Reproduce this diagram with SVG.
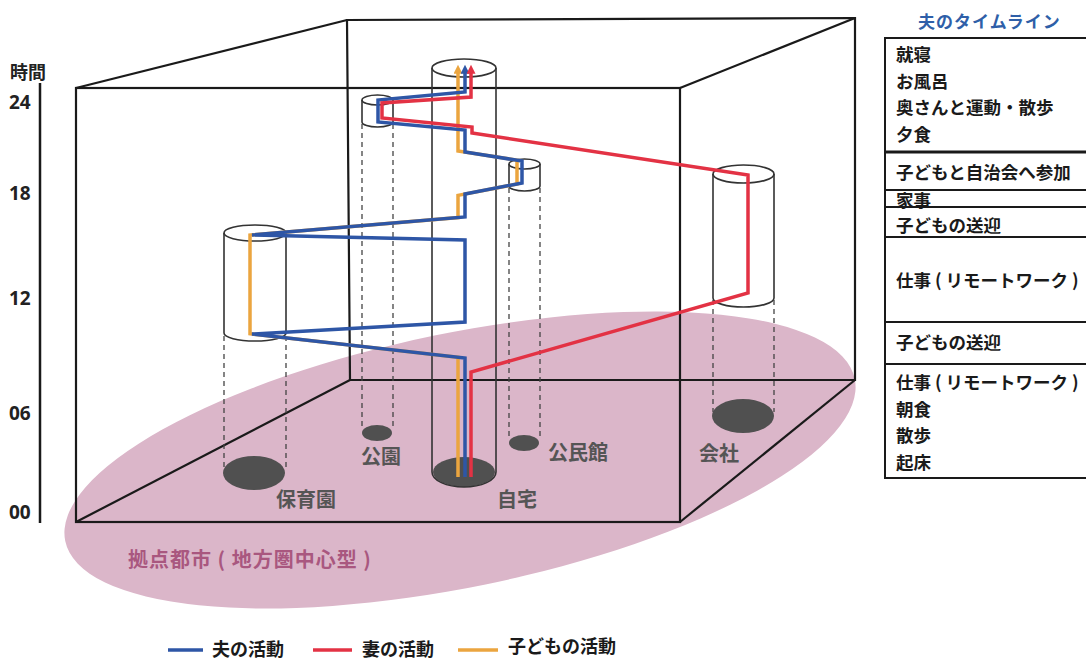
<svg xmlns="http://www.w3.org/2000/svg" width="1086" height="659" viewBox="0 0 1086 659">
<style>
.cube{fill:none;stroke:#1a1a1a;stroke-width:2.2}
.cyl{fill:none;stroke:#333;stroke-width:1.6}
.dash{fill:none;stroke:#444;stroke-width:1.3;stroke-dasharray:5 4}
.floor{fill:#505050}
.act{fill:none;stroke-width:3.5;stroke-linejoin:miter}
.blue{stroke:#2e56a6}
.red{stroke:#e33244}
.orange{stroke:#eba53f}
.jp{font-family:"Noto Sans CJK JP","Noto Sans",sans-serif;font-weight:bold}
.place{fill:#555;font-size:20px}
.tl{fill:#1a1a1a;font-size:17.5px}
.num{font-family:"Open Sans","Noto Sans",sans-serif;font-weight:bold;font-size:19px;fill:#222}
.leg{font-size:18px;fill:#1a1a1a}
</style>
<defs>
<marker id="ab" viewBox="0 0 10 10" refX="2" refY="5" markerWidth="11" markerHeight="9" markerUnits="userSpaceOnUse" orient="auto"><path d="M0,0 L10,5 L0,10 z" fill="#2e56a6"/></marker>
<marker id="ar" viewBox="0 0 10 10" refX="2" refY="5" markerWidth="11" markerHeight="9" markerUnits="userSpaceOnUse" orient="auto"><path d="M0,0 L10,5 L0,10 z" fill="#e33244"/></marker>
<marker id="ao" viewBox="0 0 10 10" refX="2" refY="5" markerWidth="11" markerHeight="9" markerUnits="userSpaceOnUse" orient="auto"><path d="M0,0 L10,5 L0,10 z" fill="#eba53f"/></marker>
</defs>
<rect width="1086" height="659" fill="#fff"/>

<g id="region">
<ellipse cx="460" cy="460" rx="403" ry="127" transform="rotate(-11.6 460 460)" fill="#dbb6c9"/>
<text class="jp" x="128" y="567" font-size="20" letter-spacing="1" fill="#a9577f">拠点都市 ( 地方圏中心型 )</text>
</g>

<g id="time-axis">
<line x1="40" y1="83" x2="40" y2="523" stroke="#1a1a1a" stroke-width="2.5"/>
<text class="jp" x="10" y="79" font-size="18" fill="#222">時間</text>
<text class="num" x="9" y="109">24</text>
<text class="num" x="9" y="200">18</text>
<text class="num" x="9" y="305">12</text>
<text class="num" x="9" y="420">06</text>
<text class="num" x="9" y="519">00</text>
</g>

<g id="cube">
<polygon class="cube" points="347,20 855,18 855,380 350,380"/>
<rect class="cube" x="76" y="88" width="604" height="434"/>
<line class="cube" x1="76" y1="88" x2="347" y2="20"/>
<line class="cube" x1="680" y1="88" x2="855" y2="18"/>
<line class="cube" x1="76" y1="522" x2="350" y2="380"/>
<line class="cube" x1="680" y1="522" x2="855" y2="380"/>
</g>

<g id="nursery">
<ellipse class="floor" cx="254" cy="473" rx="31" ry="17"/>
<line class="dash" x1="224" y1="336" x2="224" y2="470"/>
<line class="dash" x1="286" y1="336" x2="286" y2="470"/>
<ellipse class="cyl" cx="255" cy="233" rx="31" ry="8"/>
<path class="cyl" d="M224,233 V333 A31,8 0 0 0 286,333 V233"/>
<text class="jp place" x="276" y="507">保育園</text>
</g>

<g id="park">
<ellipse class="floor" cx="377" cy="433" rx="15" ry="8"/>
<line class="dash" x1="362" y1="124" x2="362" y2="430"/>
<line class="dash" x1="393" y1="124" x2="393" y2="430"/>
<ellipse class="cyl" cx="377.5" cy="100" rx="15.5" ry="5"/>
<path class="cyl" d="M362,100 V122 A15.5,5 0 0 0 393,122 V100"/>
<text class="jp place" x="361" y="464">公園</text>
</g>

<g id="community-hall">
<ellipse class="floor" cx="524" cy="443" rx="15" ry="8"/>
<line class="dash" x1="509" y1="188" x2="509" y2="440"/>
<line class="dash" x1="540" y1="188" x2="540" y2="440"/>
<ellipse class="cyl" cx="524.5" cy="164" rx="15.5" ry="5"/>
<path class="cyl" d="M509,164 V186 A15.5,5 0 0 0 540,186 V164"/>
<text class="jp place" x="548" y="460">公民館</text>
</g>

<g id="company">
<ellipse class="floor" cx="743" cy="416" rx="31" ry="17"/>
<line class="dash" x1="713" y1="300" x2="713" y2="412"/>
<line class="dash" x1="774" y1="300" x2="774" y2="412"/>
<ellipse class="cyl" cx="743.5" cy="174" rx="30.5" ry="9"/>
<path class="cyl" d="M713,174 V298 A30.5,9 0 0 0 774,298 V174"/>
<text class="jp place" x="699" y="461">会社</text>
</g>

<g id="home">
<ellipse class="floor" cx="464" cy="472" rx="31" ry="15"/>
<ellipse class="cyl" cx="464" cy="68" rx="32" ry="9"/>
<path class="cyl" d="M432,68 V472 A32,15 0 0 0 496,472 V68"/>
<text class="jp place" x="497" y="507">自宅</text>
</g>

<g id="connectors">
<path class="act orange" d="M458,477 V357.2 L250,333.8 V235 L458,217.6 V195.4 L517,184 V160.2 L458,150.9 V72" marker-end="url(#ao)"/>
<path class="act blue" d="M465,477 V358 L252,334 L465,322 V240 L252,235 L465,217 V194 L522,183 V161 L465,152 V130 L378,122 V100 L465,92 V72" marker-end="url(#ab)"/>
<path class="act red" d="M471,477 V372 L748,293 V175 L472,133 V127 L382,118 V103 L471,97 V72" marker-end="url(#ar)"/>
</g>

<g id="timeline">
<text class="jp" x="918" y="28" font-size="17" letter-spacing="1" fill="#2f5fa8">夫のタイムライン</text>
<rect x="885" y="38" width="215" height="440" fill="none" stroke="#1a1a1a" stroke-width="2"/>
<line x1="885" y1="152" x2="1086" y2="152" stroke="#1a1a1a" stroke-width="3"/>
<line x1="885" y1="190" x2="1086" y2="190" stroke="#1a1a1a" stroke-width="2"/>
<line x1="885" y1="207" x2="1086" y2="207" stroke="#1a1a1a" stroke-width="2"/>
<line x1="885" y1="237" x2="1086" y2="237" stroke="#1a1a1a" stroke-width="2"/>
<line x1="885" y1="322" x2="1086" y2="322" stroke="#1a1a1a" stroke-width="2"/>
<line x1="885" y1="364" x2="1086" y2="364" stroke="#1a1a1a" stroke-width="2"/>
<text class="jp tl" x="896" y="61">就寝</text>
<text class="jp tl" x="896" y="88">お風呂</text>
<text class="jp tl" x="896" y="114">奥さんと運動・散歩</text>
<text class="jp tl" x="896" y="141">夕食</text>
<text class="jp tl" x="896" y="179">子どもと自治会へ参加</text>
<text class="jp tl" x="896" y="207">家事</text>
<text class="jp tl" x="896" y="232">子どもの送迎</text>
<text class="jp tl" x="896" y="287">仕事 ( リモートワーク )</text>
<text class="jp tl" x="896" y="349">子どもの送迎</text>
<text class="jp tl" x="896" y="389">仕事 ( リモートワーク )</text>
<text class="jp tl" x="896" y="416">朝食</text>
<text class="jp tl" x="896" y="442">散歩</text>
<text class="jp tl" x="896" y="469">起床</text>
</g>

<g id="legend">
<line x1="168" y1="650" x2="203" y2="650" stroke="#2e56a6" stroke-width="3.5"/>
<text class="jp leg" x="212" y="656">夫の活動</text>
<line x1="313" y1="650" x2="352" y2="650" stroke="#e33244" stroke-width="3.5"/>
<text class="jp leg" x="362" y="656">妻の活動</text>
<line x1="458" y1="650" x2="498" y2="650" stroke="#eba53f" stroke-width="3.5"/>
<text class="jp leg" x="508" y="653">子どもの活動</text>
</g>
</svg>
